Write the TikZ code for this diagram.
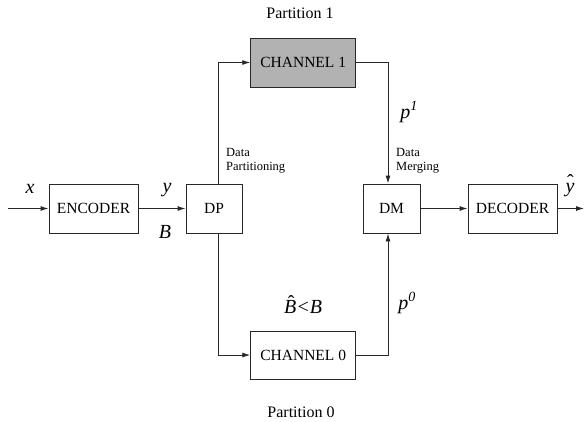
\documentclass[tikz,border=0pt]{standalone}
\usepackage{fontspec}
\setmainfont{Liberation Serif}
\usetikzlibrary{arrows.meta}
\definecolor{chgray}{RGB}{178,178,178}
\definecolor{ink}{RGB}{40,40,40}
\newcommand{\tallhat}[2][0pt]{{\ooalign{#2\cr\hidewidth\kern#1\raisebox{4pt}{\upshape\char"02C6}\hidewidth\cr}}}
\begin{document}
\begin{tikzpicture}[x=1pt,y=-1pt,
  blk/.style={draw=ink,line width=0.9pt,minimum height=49pt,inner sep=0pt,font=\fontsize{15.5}{17}\selectfont},
  arr/.style={draw=ink,line width=0.9pt,-{Latex[length=8pt,width=5pt]}},
  mlab/.style={inner sep=0pt,anchor=base,font=\fontsize{20}{22}\selectfont\itshape},
  slab/.style={inner sep=0pt,anchor=north west,align=left,font=\fontsize{12.5}{14}\selectfont},
  plab/.style={inner sep=0pt,anchor=base,font=\fontsize{16}{18}\selectfont}]
\useasboundingbox (0,0) rectangle (586,421);
\node[blk,minimum width=89pt] (enc) at (93.5,208.5) {ENCODER};
\node[blk,minimum width=56pt] (dp) at (214,208.5) {DP};
\node[blk,minimum width=105pt,fill=chgray] (ch1) at (303.2,62.5) {CHANNEL 1};
\node[blk,minimum width=57pt] (dm) at (391.5,208.5) {DM};
\node[blk,minimum width=89pt] (dec) at (512.5,208.5) {DECODER};
\node[blk,minimum width=105pt,minimum height=48pt] (ch0) at (303.2,355) {CHANNEL 0};
\coordinate (in) at (8,208.5);
\coordinate (out) at (584,208.5);
\draw[arr] (in) -- (enc);
\draw[arr] (enc) -- (dp);
\draw[arr] ([xshift=4pt]dp.north) |- (ch1.west);
\draw[arr] (ch1.east) -| ([xshift=-3.5pt]dm.north);
\draw[arr] ([xshift=4pt]dp.south) |- (ch0.west);
\draw[arr] (ch0.east) -| ([xshift=-3.5pt]dm.south);
\draw[arr] (dm) -- (dec);
\draw[arr] (dec) -- (out);
\node[mlab] (lx) at (30,193) {x};
\node[mlab] (ly) at (167,192) {y};
\node[mlab] (lB) at (165,238) {B};
\node[mlab] (lyh) at (570,192) {\tallhat[1pt]{y}};
\node[mlab] (lp1) at (409,118) {p\textsuperscript{1}};
\node[mlab] (lp0) at (407,309) {p\textsuperscript{0}};
\node[mlab] (lBh) at (303,313) {\tallhat[2pt]{B}<B};
\node[slab] (ldp) at (226,148) {Data\\Partitioning};
\node[slab] (ldm) at (396,148) {Data\\Merging};
\node[plab] (lp1t) at (300,18) {Partition 1};
\node[plab] (lp0t) at (301,417) {Partition 0};
\end{tikzpicture}
\end{document}
